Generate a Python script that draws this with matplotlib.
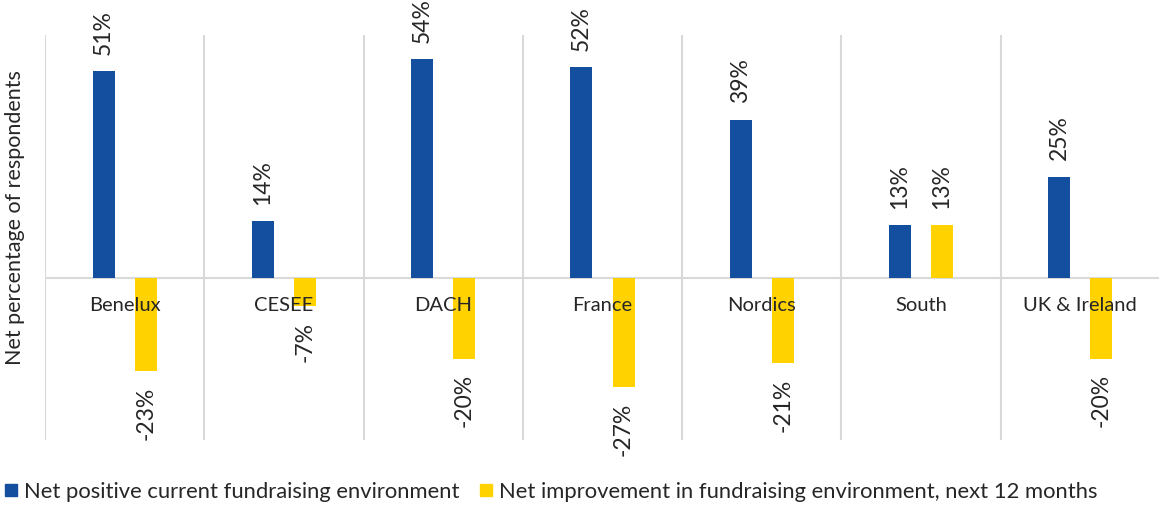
import matplotlib
matplotlib.use("Agg")
import matplotlib.pyplot as plt
from matplotlib.lines import Line2D
import numpy as np

plt.rcParams['font.family'] = ['Lato', 'DejaVu Sans']

categories = ["Benelux", "CESEE", "DACH", "France", "Nordics", "South", "UK & Ireland"]
current_env = [51, 14, 54, 52, 39, 13, 25]
next_12m = [-23, -7, -20, -27, -21, 13, -20]
series_names = ["Net positive current fundraising environment",
                "Net improvement in fundraising environment, next 12 months"]
ylabel = "Net percentage of respondents"

BLUE = "#134F9E"
YELLOW = "#FFD200"
GRID = "#D9D9D9"
TXT = "#262626"

fig = plt.figure(figsize=(11.59, 5.05), dpi=100)
ax = fig.add_axes([45/1159, 1-440/505, 1115/1159, (440-35)/505])

x = np.arange(len(categories))
w = 0.138
off = 0.132
b1 = ax.bar(x - off, current_env, w, color=BLUE, zorder=3)
b2 = ax.bar(x + off, next_12m, w, color=YELLOW, zorder=3)

ax.set_xlim(-0.5, len(categories) - 0.5)
ax.set_ylim(-40, 60)
for b in np.arange(-0.5, len(categories) - 0.5, 1.0):
    ax.axvline(b, color=GRID, lw=1.5, zorder=1)
ax.axhline(0, color=GRID, lw=1.5, zorder=2)
for s in ax.spines.values():
    s.set_visible(False)
ax.set_xticks([])
ax.set_yticks([])

for i, c in enumerate(categories):
    ax.annotate(c, (i, 0), xytext=(0, -20), textcoords='offset points',
                ha='center', va='center', fontsize=14.5, color=TXT, zorder=4)

for bars, vals in ((b1, current_env), (b2, next_12m)):
    for r, v in zip(bars, vals):
        cx = r.get_x() + r.get_width() / 2
        if v >= 0:
            ax.annotate(f"{v}%", (cx, v), xytext=(0, 12), textcoords='offset points',
                        ha='center', va='bottom', rotation=90, fontsize=16.5, color=TXT,
                        zorder=5)
        else:
            ax.annotate(f"{v}%", (cx, v), xytext=(0, -11), textcoords='offset points',
                        ha='center', va='top', rotation=90, fontsize=16.5, color=TXT,
                        zorder=5)

fig.text(15/1159, 1-218/505, ylabel, rotation=90, ha='center', va='center',
         fontsize=15.5, color=TXT)

handles = [Line2D([], [], marker='s', linestyle='none', markersize=9, color=BLUE),
           Line2D([], [], marker='s', linestyle='none', markersize=9, color=YELLOW)]
leg = fig.legend(handles, series_names, loc='center left', bbox_to_anchor=(0.0, 1-492/505),
                 frameon=False, ncol=2, handletextpad=0.1, columnspacing=0.7,
                 handlelength=1.0, borderaxespad=0, borderpad=0, labelcolor=TXT,
                 prop={'size': 15.8})

fig.savefig("out.png", dpi=100)
